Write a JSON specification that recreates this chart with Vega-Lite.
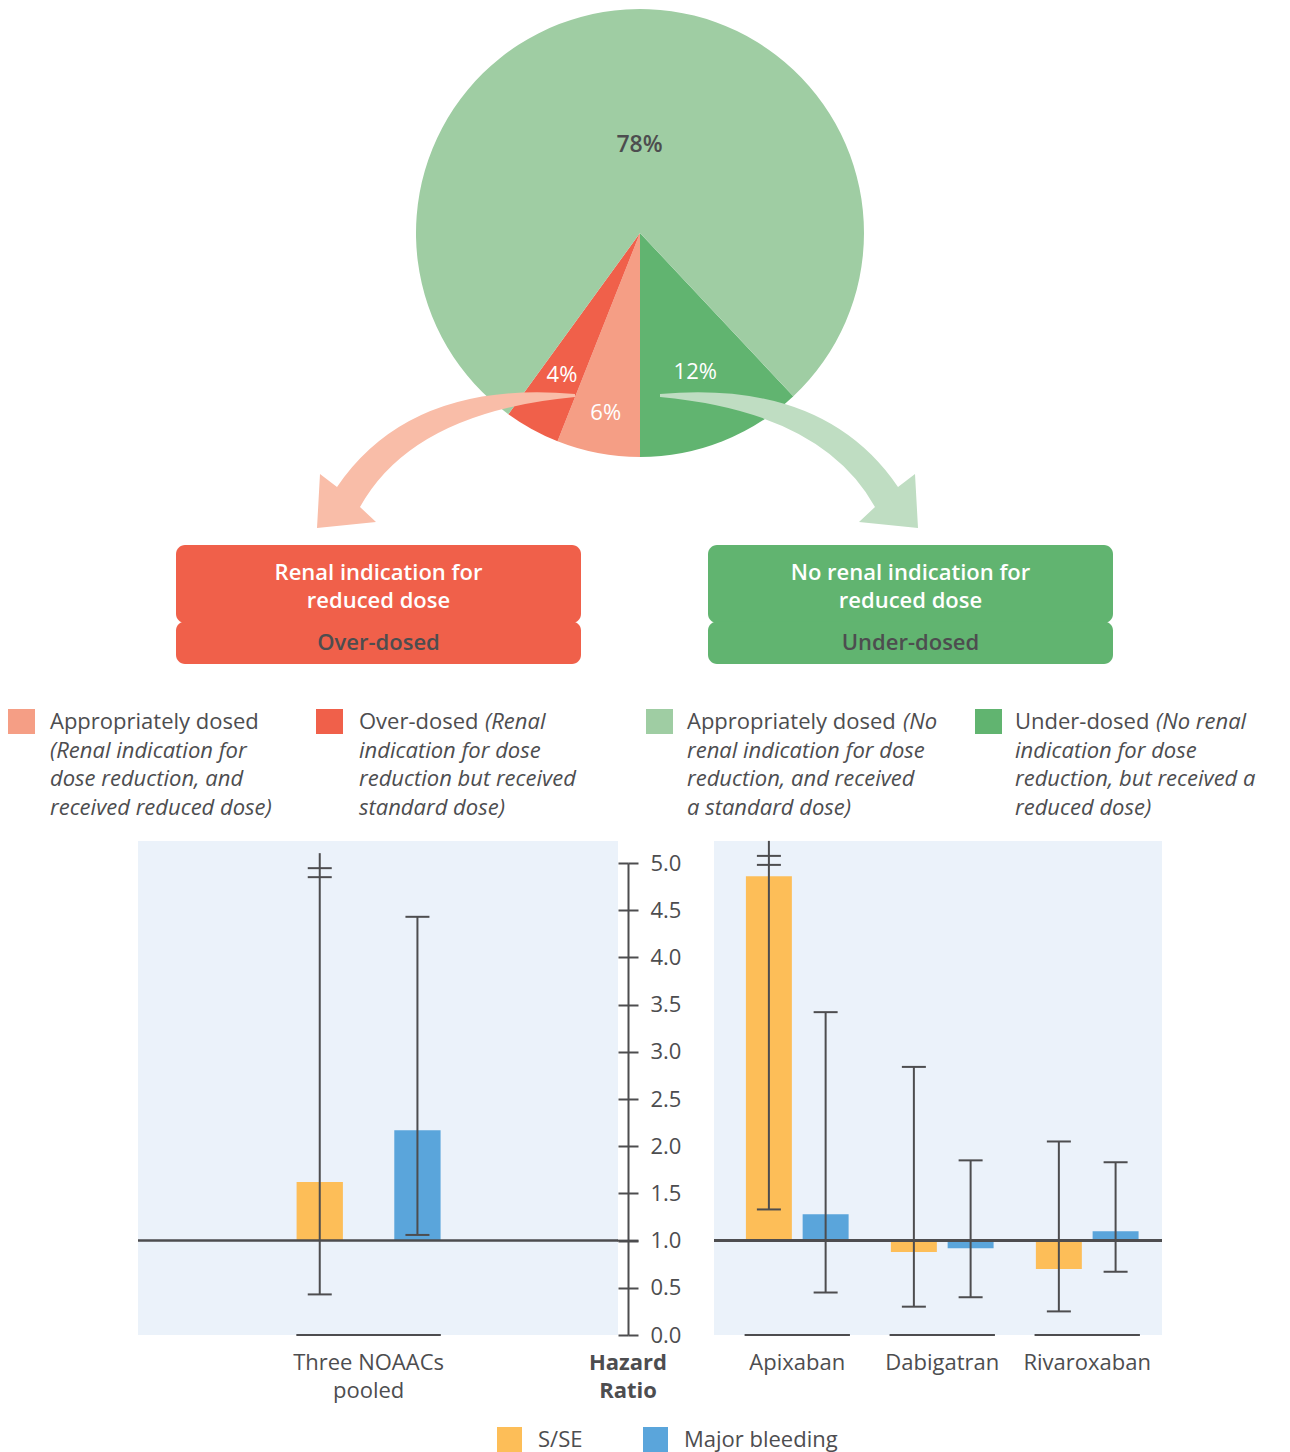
{
"$schema":"https://vega.github.io/schema/vega-lite/v6.json",
"padding":0,"background":"white","bounds":"flush","spacing":0,
"config":{"view":{"stroke":null},"font":"Open Sans","text":{"font":"Open Sans"},"axis":{"labelFont":"Open Sans"},"legend":{"labelFont":"Open Sans"}},
"resolve":{"scale":{"color":"independent"},"legend":{"color":"independent"}},
"datasets":{
"pie":[{"cat":"Under-dosed","pct":12,"label":"12%","ord":1},{"cat":"Appropriately dosed (renal)","pct":6,"label":"6%","ord":2},{"cat":"Over-dosed","pct":4,"label":"4%","ord":3},{"cat":"Appropriately dosed (no renal)","pct":78,"label":"78%","ord":4}],
"pooled":[{"drug":"Three NOAACs pooled","outcome":"S/SE","hr":1.62,"lo":0.43,"hi":4.85,"cut":true},{"drug":"Three NOAACs pooled","outcome":"Major bleeding","hr":2.17,"lo":1.06,"hi":4.43,"cut":false}],
"drugs":[{"drug":"Apixaban","outcome":"S/SE","hr":4.86,"lo":1.33,"hi":4.98,"cut":true},{"drug":"Apixaban","outcome":"Major bleeding","hr":1.28,"lo":0.45,"hi":3.42,"cut":false},{"drug":"Dabigatran","outcome":"S/SE","hr":0.88,"lo":0.3,"hi":2.84,"cut":false},{"drug":"Dabigatran","outcome":"Major bleeding","hr":0.92,"lo":0.4,"hi":1.85,"cut":false},{"drug":"Rivaroxaban","outcome":"S/SE","hr":0.7,"lo":0.25,"hi":2.05,"cut":false},{"drug":"Rivaroxaban","outcome":"Major bleeding","hr":1.1,"lo":0.67,"hi":1.83,"cut":false}]
},
"vconcat":[
{"width":1290,"height":841,"data":{"values":[{}]},
"layer":[
{"data":{"name":"pie"},"mark":{"type":"arc","outerRadius":224},"encoding":{"x":{"datum":640,"type":"quantitative","scale":{"domain":[0,1290],"nice":false,"zero":false},"axis":null},"y":{"datum":233,"type":"quantitative","scale":{"domain":[0,841],"nice":false,"zero":false,"reverse":true},"axis":null},"theta":{"field":"pct","type":"quantitative","stack":true,"scale":{"range":[2.3876,8.6708]}},"order":{"field":"ord","type":"quantitative"},"color":{"field":"cat","type":"nominal","scale":{"domain":["Appropriately dosed (renal)","Over-dosed","Appropriately dosed (no renal)","Under-dosed"],"range":["#F59E85","#F0604A","#9FCDA3","#61B470"]},"legend":null}}},
{"data":{"values":[{"arrow":"Renal indication for reduced dose"}]},"mark":{"type":"point","shape":"M-65,161Q-230,146.5,-303,254L-320,241L-323,295L-264,289L-280,274Q-227.5,179,-65,164Z","size":4,"filled":true,"opacity":1,"color":"#F9BDA8","strokeWidth":0},"encoding":{"x":{"datum":640,"type":"quantitative"},"y":{"datum":233,"type":"quantitative"}}},
{"data":{"values":[{"arrow":"No renal indication for reduced dose"}]},"mark":{"type":"point","shape":"M20,161Q185,146.5,258,254L275,241L278,295L219,289L235,274Q182.5,179,20,164Z","size":4,"filled":true,"opacity":1,"color":"#BFDDC2","strokeWidth":0},"encoding":{"x":{"datum":640,"type":"quantitative"},"y":{"datum":233,"type":"quantitative"}}},
{"data":{"name":"pie"},"mark":{"type":"text","fontSize":22,"color":"white","align":"center","baseline":"middle","radius":{"expr":"datum.pct==12?150:datum.pct==6?183:162"}},"encoding":{"x":{"datum":640,"type":"quantitative"},"y":{"datum":233,"type":"quantitative"},"theta":{"field":"pct","type":"quantitative","stack":true},"order":{"field":"ord","type":"quantitative"},"text":{"condition":{"test":"datum.ord==4","value":""},"field":"label","type":"nominal"}}},
{"data":{"name":"pie"},"mark":{"type":"text","fontSize":23,"fontWeight":600,"color":"#4D4D4F","align":"center","baseline":"middle","radius":88,"dx":5},"encoding":{"x":{"datum":640,"type":"quantitative"},"y":{"datum":233,"type":"quantitative"},"theta":{"field":"pct","type":"quantitative","stack":true},"order":{"field":"ord","type":"quantitative"},"text":{"condition":{"test":"datum.ord!=4","value":""},"field":"label","type":"nominal"}}},
{"mark":{"type":"rect","cornerRadius":9},"encoding":{"x":{"datum":176,"type":"quantitative"},"x2":{"datum":581},"y":{"datum":545,"type":"quantitative"},"y2":{"datum":623},"color":{"datum":"Over-dosed","type":"nominal"}}},
{"mark":{"type":"rect","cornerRadius":9},"encoding":{"x":{"datum":176,"type":"quantitative"},"x2":{"datum":581},"y":{"datum":621.5,"type":"quantitative"},"y2":{"datum":664},"color":{"datum":"Over-dosed","type":"nominal"}}},
{"mark":{"type":"rect","cornerRadius":9},"encoding":{"x":{"datum":708,"type":"quantitative"},"x2":{"datum":1113},"y":{"datum":545,"type":"quantitative"},"y2":{"datum":623},"color":{"datum":"Under-dosed","type":"nominal"}}},
{"mark":{"type":"rect","cornerRadius":9},"encoding":{"x":{"datum":708,"type":"quantitative"},"x2":{"datum":1113},"y":{"datum":621.5,"type":"quantitative"},"y2":{"datum":664},"color":{"datum":"Under-dosed","type":"nominal"}}},
{"data":{"values":[{"t":["Renal indication for","reduced dose"]}]},"mark":{"type":"text","fontSize":22,"fontWeight":600,"color":"white","align":"center","baseline":"alphabetic","lineHeight":28.5},"encoding":{"x":{"datum":378.5,"type":"quantitative"},"y":{"datum":579.5,"type":"quantitative"},"text":{"field":"t"}}},
{"data":{"values":[{"t":"Over-dosed"}]},"mark":{"type":"text","fontSize":22,"fontWeight":600,"color":"#4D4D4F","align":"center","baseline":"alphabetic"},"encoding":{"x":{"datum":378.5,"type":"quantitative"},"y":{"datum":649.5,"type":"quantitative"},"text":{"field":"t"}}},
{"data":{"values":[{"t":["No renal indication for","reduced dose"]}]},"mark":{"type":"text","fontSize":22,"fontWeight":600,"color":"white","align":"center","baseline":"alphabetic","lineHeight":28.5},"encoding":{"x":{"datum":910.5,"type":"quantitative"},"y":{"datum":579.5,"type":"quantitative"},"text":{"field":"t"}}},
{"data":{"values":[{"t":"Under-dosed"}]},"mark":{"type":"text","fontSize":22,"fontWeight":600,"color":"#4D4D4F","align":"center","baseline":"alphabetic"},"encoding":{"x":{"datum":910.5,"type":"quantitative"},"y":{"datum":649.5,"type":"quantitative"},"text":{"field":"t"}}},
{"mark":{"type":"rect"},"encoding":{"x":{"datum":8,"type":"quantitative"},"x2":{"datum":35},"y":{"datum":709,"type":"quantitative"},"y2":{"datum":734},"color":{"datum":"Appropriately dosed (renal)","type":"nominal"}}},
{"mark":{"type":"rect"},"encoding":{"x":{"datum":316,"type":"quantitative"},"x2":{"datum":343},"y":{"datum":709,"type":"quantitative"},"y2":{"datum":734},"color":{"datum":"Over-dosed","type":"nominal"}}},
{"mark":{"type":"rect"},"encoding":{"x":{"datum":646,"type":"quantitative"},"x2":{"datum":673},"y":{"datum":709,"type":"quantitative"},"y2":{"datum":734},"color":{"datum":"Appropriately dosed (no renal)","type":"nominal"}}},
{"mark":{"type":"rect"},"encoding":{"x":{"datum":975,"type":"quantitative"},"x2":{"datum":1002},"y":{"datum":709,"type":"quantitative"},"y2":{"datum":734},"color":{"datum":"Under-dosed","type":"nominal"}}},
{"data":{"values":[{"t":"Appropriately dosed"}]},"mark":{"type":"text","fontSize":22,"color":"#4D4D4F","align":"left","baseline":"alphabetic"},"encoding":{"x":{"datum":50,"type":"quantitative"},"y":{"datum":729,"type":"quantitative"},"text":{"field":"t"}}},
{"data":{"values":[{"t":["(Renal indication for","dose reduction, and","received reduced dose)"]}]},"mark":{"type":"text","fontSize":22,"fontStyle":"italic","color":"#4D4D4F","align":"left","baseline":"alphabetic","lineHeight":28.5},"encoding":{"x":{"datum":50,"type":"quantitative"},"y":{"datum":757.5,"type":"quantitative"},"text":{"field":"t"}}},
{"data":{"values":[{"t":"Over-dosed"}]},"mark":{"type":"text","fontSize":22,"color":"#4D4D4F","align":"left","baseline":"alphabetic"},"encoding":{"x":{"datum":359,"type":"quantitative"},"y":{"datum":729,"type":"quantitative"},"text":{"field":"t"}}},
{"data":{"values":[{"t":"(Renal"}]},"mark":{"type":"text","fontSize":22,"fontStyle":"italic","color":"#4D4D4F","align":"left","baseline":"alphabetic"},"encoding":{"x":{"datum":485,"type":"quantitative"},"y":{"datum":729,"type":"quantitative"},"text":{"field":"t"}}},
{"data":{"values":[{"t":["indication for dose","reduction but received","standard dose)"]}]},"mark":{"type":"text","fontSize":22,"fontStyle":"italic","color":"#4D4D4F","align":"left","baseline":"alphabetic","lineHeight":28.5},"encoding":{"x":{"datum":359,"type":"quantitative"},"y":{"datum":757.5,"type":"quantitative"},"text":{"field":"t"}}},
{"data":{"values":[{"t":"Appropriately dosed"}]},"mark":{"type":"text","fontSize":22,"color":"#4D4D4F","align":"left","baseline":"alphabetic"},"encoding":{"x":{"datum":687,"type":"quantitative"},"y":{"datum":729,"type":"quantitative"},"text":{"field":"t"}}},
{"data":{"values":[{"t":"(No"}]},"mark":{"type":"text","fontSize":22,"fontStyle":"italic","color":"#4D4D4F","align":"left","baseline":"alphabetic"},"encoding":{"x":{"datum":903,"type":"quantitative"},"y":{"datum":729,"type":"quantitative"},"text":{"field":"t"}}},
{"data":{"values":[{"t":["renal indication for dose","reduction, and received","a standard dose)"]}]},"mark":{"type":"text","fontSize":22,"fontStyle":"italic","color":"#4D4D4F","align":"left","baseline":"alphabetic","lineHeight":28.5},"encoding":{"x":{"datum":687,"type":"quantitative"},"y":{"datum":757.5,"type":"quantitative"},"text":{"field":"t"}}},
{"data":{"values":[{"t":"Under-dosed"}]},"mark":{"type":"text","fontSize":22,"color":"#4D4D4F","align":"left","baseline":"alphabetic"},"encoding":{"x":{"datum":1015,"type":"quantitative"},"y":{"datum":729,"type":"quantitative"},"text":{"field":"t"}}},
{"data":{"values":[{"t":"(No renal"}]},"mark":{"type":"text","fontSize":22,"fontStyle":"italic","color":"#4D4D4F","align":"left","baseline":"alphabetic"},"encoding":{"x":{"datum":1156,"type":"quantitative"},"y":{"datum":729,"type":"quantitative"},"text":{"field":"t"}}},
{"data":{"values":[{"t":["indication for dose","reduction, but received a","reduced dose)"]}]},"mark":{"type":"text","fontSize":22,"fontStyle":"italic","color":"#4D4D4F","align":"left","baseline":"alphabetic","lineHeight":28.5},"encoding":{"x":{"datum":1015,"type":"quantitative"},"y":{"datum":757.5,"type":"quantitative"},"text":{"field":"t"}}}
]},
{"spacing":0,"bounds":"flush",
"resolve":{"scale":{"x":"independent","y":"independent","xOffset":"independent"}},
"hconcat":[
{"width":138,"height":494,"data":{"values":[{}]},"mark":{"type":"point","opacity":0}},
{"width":480,"height":494,"view":{"fill":"#EBF2FA","stroke":null},"data":{"name":"pooled"},
"layer":[
{"mark":{"type":"bar","color":"#4D4D4F","stroke":"#4D4D4F","strokeWidth":2},"encoding":{"x":{"field":"drug","type":"nominal","scale":{"domain":["Three NOAACs pooled"],"paddingInner":0.1429,"paddingOuter":1,"align":0.472},"axis":{"title":null,"orient":"bottom","ticks":false,"tickSize":0,"domain":false,"labelFontSize":22,"labelColor":"#4D4D4F","labelPadding":17,"labelAngle":0,"labelLineHeight":28,"labelExpr":"datum.label=='Three NOAACs pooled'?['Three NOAACs','pooled']:datum.label"}},"y":{"datum":0,"type":"quantitative","scale":{"domain":[0,5],"range":[494,22],"nice":false,"zero":false},"axis":null},"y2":{"datum":0}}},
{"mark":{"type":"bar"},"encoding":{"x":{"field":"drug","type":"nominal"},"xOffset":{"field":"outcome","type":"nominal","scale":{"domain":["S/SE","Major bleeding"],"paddingInner":0.526,"paddingOuter":0}},"y":{"field":"hr","type":"quantitative","axis":null},"y2":{"datum":1},"color":{"field":"outcome","type":"nominal","scale":{"domain":["S/SE","Major bleeding"],"range":["#FDBE58","#5AA5DB"]},"legend":{"title":null,"orient":"none","legendX":497,"legendY":586,"direction":"horizontal","symbolType":"square","symbolSize":625,"symbolStrokeWidth":0,"symbolOpacity":1,"labelFontSize":22,"labelColor":"#4D4D4F","labelOffset":16,"columnPadding":60,"padding":0}}}},
{"mark":{"type":"rule","color":"#4D4D4F","strokeWidth":2},"encoding":{"y":{"datum":1,"type":"quantitative","axis":null}}},
{"mark":{"type":"rule","color":"#4D4D4F","strokeWidth":2},"encoding":{"x":{"field":"drug","type":"nominal"},"xOffset":{"field":"outcome","type":"nominal"},"y":{"field":"lo","type":"quantitative","axis":null},"y2":{"field":"hi"}}},
{"mark":{"type":"tick","color":"#4D4D4F","size":24,"thickness":2,"opacity":1},"encoding":{"x":{"field":"drug","type":"nominal"},"xOffset":{"field":"outcome","type":"nominal"},"y":{"field":"lo","type":"quantitative","axis":null}}},
{"mark":{"type":"tick","color":"#4D4D4F","size":24,"thickness":2,"opacity":1},"encoding":{"x":{"field":"drug","type":"nominal"},"xOffset":{"field":"outcome","type":"nominal"},"y":{"field":"hi","type":"quantitative","axis":null}}},
{"transform":[{"filter":"datum.cut"}],"mark":{"type":"rule","color":"#4D4D4F","strokeWidth":2,"y2Offset":-24},"encoding":{"x":{"field":"drug","type":"nominal"},"xOffset":{"field":"outcome","type":"nominal"},"y":{"field":"hi","type":"quantitative","axis":null},"y2":{"field":"hi"}}},
{"transform":[{"filter":"datum.cut"}],"mark":{"type":"tick","color":"#4D4D4F","size":24,"thickness":2,"opacity":1,"yOffset":-9},"encoding":{"x":{"field":"drug","type":"nominal"},"xOffset":{"field":"outcome","type":"nominal"},"y":{"field":"hi","type":"quantitative","axis":null}}}
]},
{"width":96,"height":494,"data":{"values":[{"ax":"Hazard Ratio"}]},
"resolve":{"axis":{"y":"independent"}},
"layer":[
{"mark":{"type":"tick","color":"#4D4D4F","size":21,"thickness":2,"opacity":1},"encoding":{"x":{"field":"ax","type":"nominal","scale":{"paddingInner":0.4737,"paddingOuter":1,"align":0},"axis":{"title":null,"orient":"bottom","ticks":false,"tickSize":0,"domain":false,"labelFontSize":22,"labelFontWeight":"bold","labelColor":"#4D4D4F","labelPadding":17,"labelAngle":0,"labelLineHeight":28,"labelExpr":"split(datum.label,' ')"}},"y":{"datum":1,"type":"quantitative","scale":{"domain":[0,5],"range":[494,22],"nice":false,"zero":false},"axis":{"orient":"left","offset":-10,"values":[0,0.5,1,1.5,2,2.5,3,3.5,4,4.5,5],"labels":false,"domain":false,"tickSize":10,"tickWidth":2,"tickColor":"#4D4D4F","grid":false,"title":null}}}},
{"mark":{"type":"tick","color":"#4D4D4F","size":21,"thickness":2,"opacity":0},"encoding":{"x":{"field":"ax","type":"nominal"},"y":{"datum":1,"type":"quantitative","axis":{"orient":"right","offset":-86,"values":[0,0.5,1,1.5,2,2.5,3,3.5,4,4.5,5],"format":".1f","domain":true,"domainColor":"#4D4D4F","domainWidth":2,"tickSize":10,"tickWidth":2,"tickColor":"#4D4D4F","labelFontSize":22,"labelColor":"#4D4D4F","labelPadding":12,"grid":false,"title":null}}}}
]},
{"width":448,"height":494,"view":{"fill":"#EBF2FA","stroke":null},"data":{"name":"drugs"},
"layer":[
{"mark":{"type":"bar","color":"#4D4D4F","stroke":"#4D4D4F","strokeWidth":2},"encoding":{"x":{"field":"drug","type":"nominal","scale":{"domain":["Apixaban","Dabigatran","Rivaroxaban"],"paddingInner":0.276,"paddingOuter":0.183,"align":0.58},"axis":{"title":null,"orient":"bottom","ticks":false,"tickSize":0,"domain":false,"labelFontSize":22,"labelColor":"#4D4D4F","labelPadding":17,"labelAngle":0}},"y":{"datum":0,"type":"quantitative","scale":{"domain":[0,5],"range":[494,22],"nice":false,"zero":false},"axis":null},"y2":{"datum":0}}},
{"mark":{"type":"bar"},"encoding":{"x":{"field":"drug","type":"nominal"},"xOffset":{"field":"outcome","type":"nominal","scale":{"domain":["S/SE","Major bleeding"],"paddingInner":0.19,"paddingOuter":0.02}},"y":{"field":"hr","type":"quantitative","axis":null},"y2":{"datum":1},"color":{"field":"outcome","type":"nominal","scale":{"domain":["S/SE","Major bleeding"],"range":["#FDBE58","#5AA5DB"]},"legend":{"title":null,"orient":"none","legendX":497,"legendY":586,"direction":"horizontal","symbolType":"square","symbolSize":625,"symbolStrokeWidth":0,"symbolOpacity":1,"labelFontSize":22,"labelColor":"#4D4D4F","labelOffset":16,"columnPadding":60,"padding":0}}}},
{"mark":{"type":"rule","color":"#4D4D4F","strokeWidth":2},"encoding":{"y":{"datum":1,"type":"quantitative","axis":null}}},
{"mark":{"type":"rule","color":"#4D4D4F","strokeWidth":2},"encoding":{"x":{"field":"drug","type":"nominal"},"xOffset":{"field":"outcome","type":"nominal"},"y":{"field":"lo","type":"quantitative","axis":null},"y2":{"field":"hi"}}},
{"mark":{"type":"tick","color":"#4D4D4F","size":24,"thickness":2,"opacity":1},"encoding":{"x":{"field":"drug","type":"nominal"},"xOffset":{"field":"outcome","type":"nominal"},"y":{"field":"lo","type":"quantitative","axis":null}}},
{"mark":{"type":"tick","color":"#4D4D4F","size":24,"thickness":2,"opacity":1},"encoding":{"x":{"field":"drug","type":"nominal"},"xOffset":{"field":"outcome","type":"nominal"},"y":{"field":"hi","type":"quantitative","axis":null}}},
{"transform":[{"filter":"datum.cut"}],"mark":{"type":"rule","color":"#4D4D4F","strokeWidth":2,"y2Offset":-24},"encoding":{"x":{"field":"drug","type":"nominal"},"xOffset":{"field":"outcome","type":"nominal"},"y":{"field":"hi","type":"quantitative","axis":null},"y2":{"field":"hi"}}},
{"transform":[{"filter":"datum.cut"}],"mark":{"type":"tick","color":"#4D4D4F","size":24,"thickness":2,"opacity":1,"yOffset":-9},"encoding":{"x":{"field":"drug","type":"nominal"},"xOffset":{"field":"outcome","type":"nominal"},"y":{"field":"hi","type":"quantitative","axis":null}}}
]}
]}
]
}
